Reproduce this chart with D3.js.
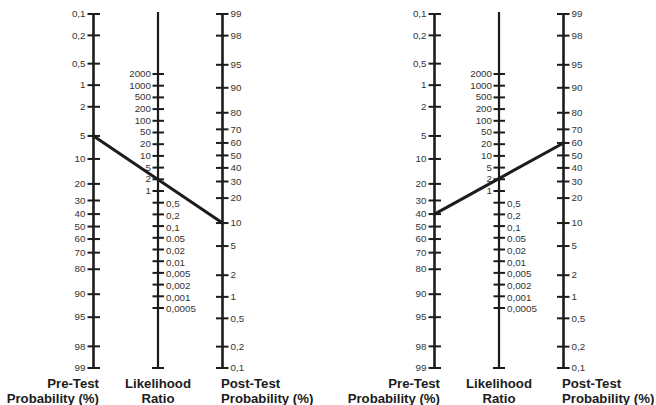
<!DOCTYPE html>
<html>
<head>
<meta charset="utf-8">
<script src="https://cdn.jsdelivr.net/npm/d3@7"></script>
<style>
  html, body { margin: 0; padding: 0; background: #fff; }
  svg { display: block; }
  text { font-family: "Liberation Sans", Arial, Helvetica, sans-serif; }
</style>
</head>
<body>
<svg id="chart" width="656" height="405"></svg>
<script>
// ---- data ----
const preTicks  = [0.1, 0.2, 0.5, 1, 2, 5, 10, 20, 30, 40, 50, 60, 70, 80, 90, 95, 98, 99];
const preLabels = ["0,1", "0,2", "0,5", "1", "2", "5", "10", "20", "30", "40", "50", "60", "70", "80", "90", "95", "98", "99"];
const postTicks  = [99, 98, 95, 90, 80, 70, 60, 50, 40, 30, 20, 10, 5, 2, 1, 0.5, 0.2, 0.1];
const postLabels = ["99", "98", "95", "90", "80", "70", "60", "50", "40", "30", "20", "10", "5", "2", "1", "0,5", "0,2", "0,1"];
const lrTicks  = [2000, 1000, 500, 200, 100, 50, 20, 10, 5, 2, 1, 0.5, 0.2, 0.1, 0.05, 0.02, 0.01, 0.005, 0.002, 0.001, 0.0005];
const lrLabels = ["2000", "1000", "500", "200", "100", "50", "20", "10", "5", "2", "1", "0,5", "0,2", "0,1", "0.05", "0,02", "0,01", "0,005", "0,002", "0,001", "0,0005"];
const probMin = 0.1, probMax = 99;        // % range of probability axes
const panels = ["left", "right"];
const preTest  = [5, 40];                 // pre-test probability (%)
const postTest = [10, 60];                // post-test probability (%)

// ---- layout ----
const svg = d3.select("#chart");
const yTop = 14, yBottom = 368;
const panelX = [0, 341];
const xPre = 93.5, xLR = 158, xPost = 222.5;
const ink = "#1c1c1c", labelInk = "#333";

const odds = p => (p / 100) / (1 - p / 100);
const oMin = odds(probMin), oMax = odds(probMax);

const yPre  = d3.scaleLog().domain([oMin, oMax]).range([yTop, yBottom]);
const yPost = d3.scaleLog().domain([oMax, oMin]).range([yTop, yBottom]);
// the likelihood-ratio ruler is drawn with evenly spaced graduations
const yLR   = d3.scalePoint().domain(lrTicks).range([74, 308]);

panels.forEach((name, i) => {
  const g = svg.append("g").attr("transform", `translate(${panelX[i]},0)`);

  // axis lines
  g.append("line").attr("x1", xPre).attr("x2", xPre)
    .attr("y1", yPre(odds(probMin))).attr("y2", yPre(odds(probMax)))
    .attr("stroke", ink).attr("stroke-width", 2.6);
  g.append("line").attr("x1", xPost).attr("x2", xPost)
    .attr("y1", yPost(odds(probMax))).attr("y2", yPost(odds(probMin)))
    .attr("stroke", ink).attr("stroke-width", 2.6);
  g.append("line").attr("x1", xLR).attr("x2", xLR)
    .attr("y1", yTop - 2).attr("y2", yBottom)
    .attr("stroke", ink).attr("stroke-width", 2.2);
  // bottom end cap on LR axis
  g.append("line").attr("x1", xLR - 6).attr("x2", xLR + 6)
    .attr("y1", yBottom).attr("y2", yBottom)
    .attr("stroke", ink).attr("stroke-width", 2);

  // pre-test ticks
  const pre = g.append("g");
  preTicks.forEach((v, k) => {
    const y = yPre(odds(v));
    pre.append("line").attr("x1", xPre - 6).attr("x2", xPre + 6.5)
      .attr("y1", y).attr("y2", y).attr("stroke", ink).attr("stroke-width", 2);
    pre.append("text").attr("x", xPre - 8).attr("y", y).attr("dy", "0.33em")
      .attr("text-anchor", "end").attr("font-size", 9.8).attr("fill", labelInk)
      .text(preLabels[k]);
  });

  // post-test ticks
  const post = g.append("g");
  postTicks.forEach((v, k) => {
    const y = yPost(odds(v));
    post.append("line").attr("x1", xPost - 6.5).attr("x2", xPost + 6)
      .attr("y1", y).attr("y2", y).attr("stroke", ink).attr("stroke-width", 2);
    post.append("text").attr("x", xPost + 8).attr("y", y).attr("dy", "0.33em")
      .attr("text-anchor", "start").attr("font-size", 9.8).attr("fill", labelInk)
      .text(postLabels[k]);
  });

  // LR ticks
  const lr = g.append("g");
  lrTicks.forEach((v, k) => {
    const y = yLR(v);
    lr.append("line").attr("x1", xLR - 5.5).attr("x2", xLR + 6)
      .attr("y1", y).attr("y2", y).attr("stroke", ink).attr("stroke-width", 2);
    const above = v >= 1;
    lr.append("text").attr("x", above ? xLR - 7 : xLR + 8).attr("y", y)
      .attr("dy", above ? "0.3em" : "0.45em")
      .attr("text-anchor", above ? "end" : "start").attr("font-size", 9.8).attr("fill", labelInk)
      .text(lrLabels[k]);
  });

  // the nomogram line
  g.append("line")
    .attr("x1", xPre).attr("y1", yPre(odds(preTest[i])))
    .attr("x2", xPost).attr("y2", yPost(odds(postTest[i])))
    .attr("stroke", ink).attr("stroke-width", 3).attr("stroke-linecap", "round");

  // titles
  const t = g.append("g").attr("font-weight", "bold").attr("font-size", 13.2).attr("fill", ink);
  const title = (x, anchor, lines) => {
    lines.forEach((s, j) => {
      t.append("text").attr("x", x).attr("y", 388 + j * 15.3)
        .attr("text-anchor", anchor).text(s);
    });
  };
  title(xPre + 5.5, "end", ["Pre-Test", "Probability (%)"]);
  title(xLR, "middle", ["Likelihood", "Ratio"]);
  title(xPost - 1.5, "start", ["Post-Test", "Probability (%)"]);
});
</script>
</body>
</html>
